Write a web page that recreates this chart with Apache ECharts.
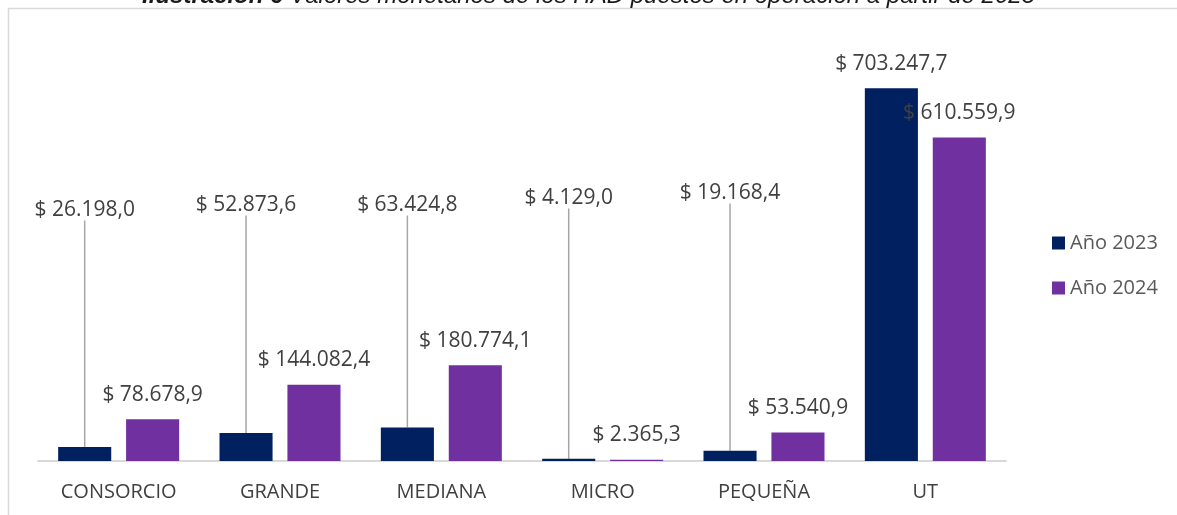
<!DOCTYPE html>
<html>
<head>
<meta charset="utf-8">
<script src="https://cdn.jsdelivr.net/npm/echarts@6/dist/echarts.min.js"></script>
<style>
  html, body { margin: 0; padding: 0; background: #fff; }
  #main { width: 1177px; height: 515px; }
</style>
</head>
<body>
<div id="main"></div>
<script>
var categories = ['CONSORCIO', 'GRANDE', 'MEDIANA', 'MICRO', 'PEQUEÑA', 'UT'];
var anio2023 = [26198.0, 52873.6, 63424.8, 4129.0, 19168.4, 703247.7];
var anio2024 = [78678.9, 144082.4, 180774.1, 2365.3, 53540.9, 610559.9];
var seriesNames = ['Año 2023', 'Año 2024'];
var titleBold = 'Ilustración 6';
var titleRest = ' Valores monetarios de los HAD puestos en operación a partir de 2023';

// labels of 2023 that were dragged up with a leader line (pixel y of label centre)
var leaderLabelY = [210, 205, 205, 198, 193, null];

var FONT = 'Open Sans';

function money(v) {
  var parts = v.toFixed(1).split('.');
  var ent = parts[0].replace(/\B(?=(\d{3})+(?!\d))/g, '.');
  return '$ ' + ent + ',' + parts[1];
}

var dom = document.getElementById('main');
var myChart = echarts.init(dom);

var option = {
  backgroundColor: '#ffffff',
  animation: false,
  title: {
    text: '{b|' + titleBold + '}{n|' + titleRest + '}',
    left: 'center',
    top: -21,
    textStyle: {
      rich: {
        b: { fontFamily: 'Liberation Sans', fontSize: 24, fontStyle: 'italic', fontWeight: 'bold', color: '#1a1a1a' },
        n: { fontFamily: 'Liberation Sans', fontSize: 24, fontStyle: 'italic', fontWeight: 'normal', color: '#1a1a1a' }
      }
    }
  },
  graphic: [{
    type: 'rect',
    shape: { x: 8.5, y: 8.5, width: 1300, height: 600 },
    style: { fill: 'none', stroke: '#d9d9d9', lineWidth: 1.5 },
    silent: true
  }],
  legend: {
    orient: 'vertical',
    left: 1047,
    top: 228,
    itemWidth: 13,
    itemHeight: 13,
    itemGap: 25,
    icon: 'rect',
    textStyle: { fontFamily: FONT, fontSize: 20, color: '#595959' },
    data: seriesNames
  },
  grid: { left: 38, right: 171, top: 37, bottom: 54, containLabel: false },
  xAxis: {
    type: 'category',
    data: categories,
    axisTick: { show: false },
    axisLine: { lineStyle: { color: '#d9d9d9', width: 2 } },
    axisLabel: { margin: 21, fontFamily: FONT, fontSize: 20, color: '#404040', interval: 0 }
  },
  yAxis: {
    type: 'value',
    min: 0,
    max: 800000,
    show: false,
    splitLine: { show: false }
  },
  series: [
    {
      name: seriesNames[0],
      type: 'bar',
      barGap: '28%',
      barCategoryGap: '25%',
      itemStyle: { color: '#002060' },
      data: anio2023.map(function (v, i) {
        return { value: v, labelLine: { show: leaderLabelY[i] != null } };
      }),
      label: {
        show: true,
        position: 'top',
        distance: 14,
        fontFamily: FONT,
        fontSize: 21,
        color: '#404040',
        formatter: function (p) { return money(p.value); }
      },
      labelLine: { show: true, lineStyle: { color: '#a6a6a6', width: 1.5 } },
      labelLayout: function (p) {
        var y = leaderLabelY[p.dataIndex];
        if (y == null) return {};
        return {
          x: p.rect.x + p.rect.width / 2,
          y: y,
          align: 'center',
          verticalAlign: 'middle'
        };
      }
    },
    {
      name: seriesNames[1],
      type: 'bar',
      itemStyle: { color: '#7030a0' },
      data: anio2024,
      label: {
        show: true,
        position: 'top',
        distance: 14,
        fontFamily: FONT,
        fontSize: 21,
        color: '#404040',
        formatter: function (p) { return money(p.value); }
      }
    }
  ]
};

if (option && typeof option === 'object') {
  myChart.setOption(option);
}

window.onresize = function () {
  myChart.resize();
};
</script>
</body>
</html>
